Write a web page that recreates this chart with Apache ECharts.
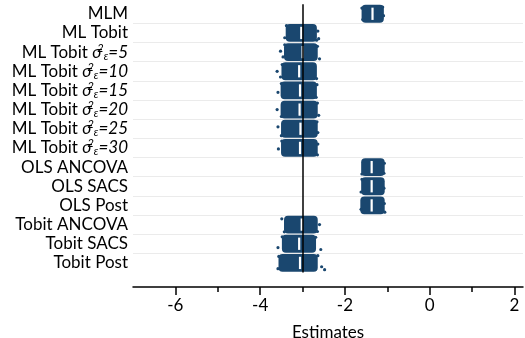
<!DOCTYPE html>
<html>
<head>
<meta charset="utf-8">
<script src="https://cdn.jsdelivr.net/npm/echarts@6/dist/echarts.min.js"></script>
<style>
  html, body { margin: 0; padding: 0; background: #fff; }
  #chart { width: 525px; height: 338px; }
</style>
</head>
<body>
<div id="chart"></div>
<script>
// Estimator labels, top to bottom
const categories = [
  'MLM',
  'ML Tobit',
  'ML Tobit σ²ε=5',
  'ML Tobit σ²ε=10',
  'ML Tobit σ²ε=15',
  'ML Tobit σ²ε=20',
  'ML Tobit σ²ε=25',
  'ML Tobit σ²ε=30',
  'OLS ANCOVA',
  'OLS SACS',
  'OLS Post',
  'Tobit ANCOVA',
  'Tobit SACS',
  'Tobit Post'
];

// Dense body of each estimate cloud (lower / upper edge) and its mean
const coreLow      = [-1.57, -3.36, -3.40, -3.46, -3.48, -3.48, -3.47, -3.47, -1.58, -1.58, -1.60, -3.40, -3.45, -3.53];
const coreHigh     = [-1.12, -2.70, -2.68, -2.70, -2.70, -2.68, -2.68, -2.68, -1.10, -1.10, -1.10, -2.68, -2.72, -2.68];
const meanEstimate = [-1.35, -3.03, -3.00, -3.08, -3.06, -3.07, -3.05, -3.06, -1.37, -1.37, -1.37, -3.02, -3.08, -3.06];

// Estimates at the ragged edges of each cloud (category, value, vertical jitter)
const strayCategory = [
  0, 0, 0, 0,
  1, 1, 1, 1, 1,
  2, 2, 2, 2, 2,
  3, 3, 3, 3,
  4, 4, 4, 4,
  5, 5, 5, 5,
  6, 6, 6, 6,
  7, 7, 7, 7,
  8, 8, 8,
  9, 9, 9,
  10, 10, 10,
  11, 11, 11, 11,
  12, 12, 12, 12,
  13, 13, 13, 13, 13
];
const strayValue = [
  -1.09, -1.60, -1.58, -1.11,
  -3.42, -2.64, -2.62, -3.38, -2.67,
  -3.52, -3.46, -2.60, -3.42, -2.65,
  -3.60, -3.52, -3.48, -2.67,
  -3.58, -3.50, -2.66, -2.68,
  -3.60, -2.62, -3.50, -2.65,
  -3.58, -3.50, -2.64, -2.66,
  -3.57, -3.49, -2.65, -2.64,
  -1.07, -1.60, -1.08,
  -1.08, -1.62, -1.60,
  -1.07, -1.06, -1.62,
  -3.49, -2.60, -3.43, -2.65,
  -3.58, -2.57, -3.48, -2.69,
  -3.58, -2.48, -2.55, -3.56, -2.64
];
const strayJitter = [
  0.10, -0.30, 0.30, -0.35,
  0.25, -0.10, 0.30, -0.38, 0.38,
  -0.05, 0.25, 0.35, -0.38, -0.30,
  0.00, 0.30, -0.35, 0.38,
  0.10, -0.36, -0.30, 0.36,
  0.00, 0.30, 0.36, -0.34,
  -0.10, 0.36, 0.20, -0.36,
  0.05, -0.36, 0.36, -0.20,
  -0.20, 0.36, 0.32,
  0.10, 0.30, -0.36,
  -0.10, 0.35, 0.20,
  -0.30, 0.00, 0.38, 0.36,
  0.20, 0.30, -0.36, -0.34,
  0.30, 0.35, 0.20, -0.34, -0.38
];

const xTicks = [-6, -4, -2, 0, 2];
const xMinorTicks = [-5, -3, -1, 1];
const referenceValue = -3;

const navy = '#1a476f';
const font = 'Lato';
const dotRadius = 1.6;

const coreData = categories.map((c, i) => [i, coreLow[i], coreHigh[i], meanEstimate[i]]);
const strayData = strayValue.map((v, k) => [v, strayCategory[k], strayJitter[k]]);

function labelText(name) {
  const m = name.match(/^(.*)σ²ε(=\d+)$/);
  if (!m) return name;
  return m[1] + '{g|σ}{sup|2}{sub|ε}{it|' + m[2] + '}';
}

const chart = echarts.init(document.getElementById('chart'), null, { renderer: 'canvas' });

chart.setOption({
  animation: false,
  backgroundColor: '#fff',
  grid: { left: 133, right: 2, top: 4.2, bottom: 65.5, containLabel: false, outerBoundsMode: 'none' },
  xAxis: [
    {
      type: 'value',
      min: -7,
      max: 2.2,
      position: 'bottom',
      offset: 14.5,
      name: 'Estimates',
      nameLocation: 'middle',
      nameGap: 37,
      nameTextStyle: { fontFamily: font, fontSize: 17, color: '#000' },
      axisLine: { show: true, lineStyle: { color: '#000', width: 1.5 } },
      axisTick: { show: true, length: 8, customValues: xTicks, lineStyle: { color: '#000', width: 1.5 } },
      axisLabel: { customValues: xTicks, margin: 10, fontFamily: font, fontSize: 17, color: '#000' },
      splitLine: { show: false }
    },
    {
      type: 'value',
      min: -7,
      max: 2.2,
      position: 'bottom',
      offset: 14.5,
      axisLine: { show: false },
      axisTick: { show: true, length: 5, customValues: xMinorTicks, lineStyle: { color: '#000', width: 1.5 } },
      axisLabel: { show: false },
      splitLine: { show: false }
    }
  ],
  yAxis: {
    type: 'category',
    data: categories,
    inverse: true,
    axisLine: { show: false },
    axisTick: { show: false },
    axisLabel: {
      interval: 0,
      margin: 5,
      fontFamily: font,
      fontSize: 17,
      color: '#000',
      formatter: labelText,
      rich: {
        g:   { fontFamily: font, fontSize: 17, fontStyle: 'italic', color: '#000', lineHeight: 19 },
        sup: { fontFamily: font, fontSize: 11, fontStyle: 'italic', color: '#000', verticalAlign: 'top', lineHeight: 9, width: 2 },
        sub: { fontFamily: font, fontSize: 11, fontStyle: 'italic', color: '#000', verticalAlign: 'bottom', lineHeight: 9 },
        it:  { fontFamily: font, fontSize: 17, fontStyle: 'italic', color: '#000', lineHeight: 19 }
      }
    },
    splitLine: { show: true, interval: 0, showMinLine: false, showMaxLine: false, lineStyle: { color: '#ebebeb', width: 1 } }
  },
  series: [
    {
      type: 'custom',
      name: 'core',
      xAxisIndex: 0,
      encode: { x: [1, 2, 3], y: 0 },
      data: coreData,
      z: 2,
      renderItem: function (params, api) {
        const i = api.value(0);
        const a = api.coord([api.value(1), i]);
        const b = api.coord([api.value(2), i]);
        const m = api.coord([api.value(3), i]);
        const band = api.size([0, 1])[1];
        const h = band * 0.93;
        return {
          type: 'group',
          children: [
            { type: 'rect', shape: { x: a[0] - dotRadius, y: a[1] - h / 2, width: b[0] - a[0] + 2 * dotRadius, height: h, r: 4 }, style: { fill: navy } },
            { type: 'rect', shape: { x: m[0] - 1.1, y: m[1] - band * 0.32, width: 2.2, height: band * 0.64 }, style: { fill: '#fff' } }
          ]
        };
      }
    },
    {
      type: 'custom',
      name: 'stray',
      xAxisIndex: 0,
      encode: { x: 0, y: 1 },
      data: strayData,
      z: 3,
      renderItem: function (params, api) {
        const p = api.coord([api.value(0), api.value(1)]);
        const band = api.size([0, 1])[1];
        return { type: 'circle', shape: { cx: p[0], cy: p[1] + api.value(2) * band, r: dotRadius }, style: { fill: navy } };
      },
      markLine: {
        silent: true,
        symbol: 'none',
        label: { show: false },
        lineStyle: { color: '#000', width: 1.5, type: 'solid' },
        data: [{ xAxis: referenceValue }],
        z: 10
      }
    }
  ]
});
</script>
</body>
</html>
